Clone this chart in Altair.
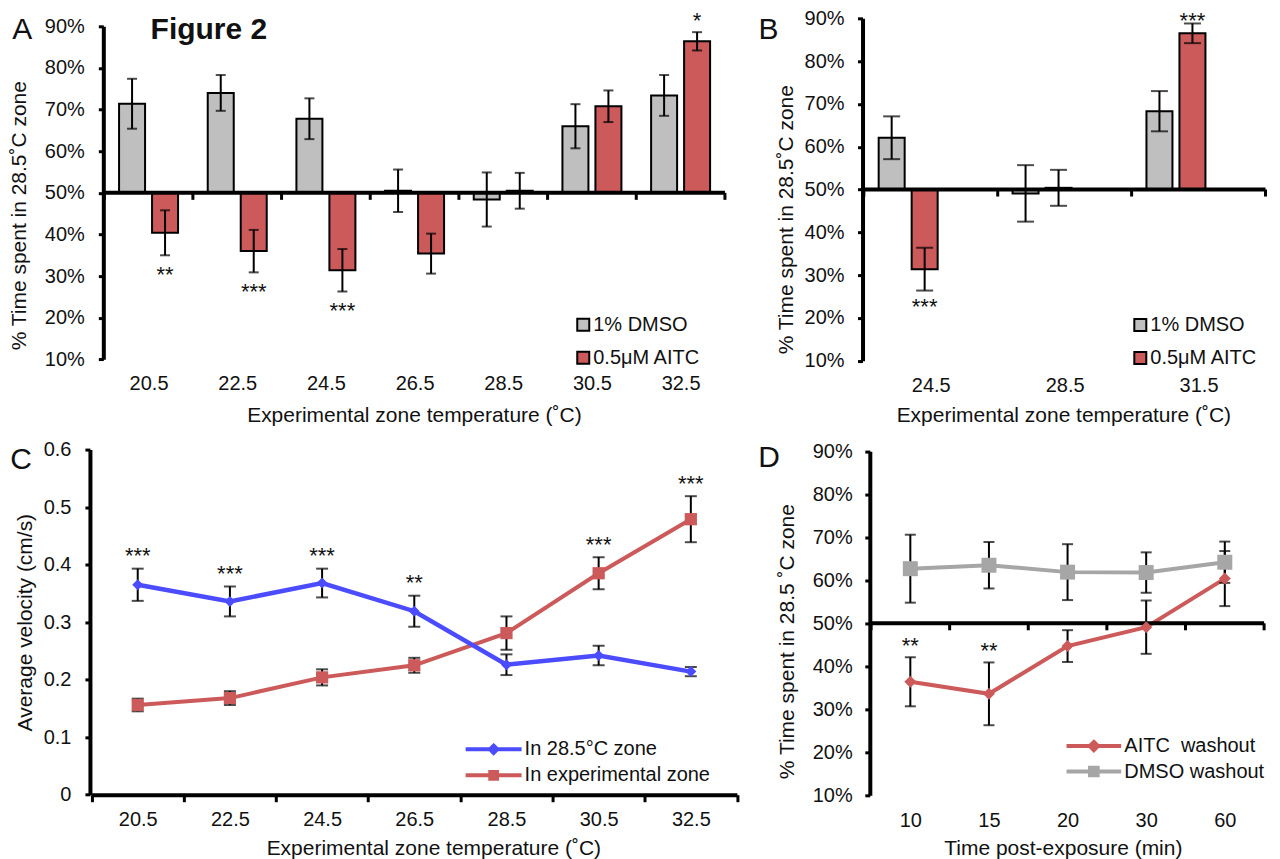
import altair as alt
import pandas as pd

FONT = "Liberation Sans"
TXT = "#111111"
GRAY_BAR = "#BFBFBF"
RED = "#CD5A5A"
BLUE = "#4B4BFF"
GRAY_LINE = "#A6A6A6"

# ---------------- data ----------------
GROUPS = ["1% DMSO", "0.5μM AITC"]

a_temps = ["20.5", "22.5", "24.5", "26.5", "28.5", "30.5", "32.5"]
a_dmso = [71.4, 74.0, 67.8, 50.5, 48.4, 66.0, 73.4]
a_dmso_err = [6.0, 4.3, 4.9, 5.1, 6.5, 5.3, 4.9]
a_aitc = [40.4, 36.0, 31.4, 35.4, 50.5, 70.8, 86.4]
a_aitc_err = [5.4, 5.1, 5.1, 4.8, 4.3, 3.8, 2.2]
a_aitc_sig = ["**", "***", "***", "", "", "", "*"]

b_temps = ["24.5", "28.5", "31.5"]
b_dmso = [62.1, 49.1, 68.3]
b_dmso_err = [5.0, 6.6, 4.7]
b_aitc = [31.4, 50.4, 86.5]
b_aitc_err = [5.0, 4.2, 2.3]
b_aitc_sig = ["***", "", "***"]

c_temps = ["20.5", "22.5", "24.5", "26.5", "28.5", "30.5", "32.5"]
c_series = ["In 28.5°C zone", "In experimental zone"]
c_ref = [0.365, 0.336, 0.368, 0.319, 0.226, 0.242, 0.214]
c_ref_err = [0.028, 0.026, 0.025, 0.027, 0.018, 0.017, 0.008]
c_exp = [0.156, 0.168, 0.204, 0.225, 0.281, 0.385, 0.479]
c_exp_err = [0.011, 0.012, 0.014, 0.013, 0.029, 0.028, 0.040]
c_sig = ["***", "***", "***", "**", "", "***", "***"]

d_times = ["10", "15", "20", "30", "60"]
d_series = ["AITC\u00a0 washout", "DMSO washout"]
d_aitc = [36.4, 33.6, 44.7, 49.1, 60.4]
d_aitc_err = [5.7, 7.3, 3.7, 6.2, 6.4]
d_dmso = [62.7, 63.5, 61.9, 61.8, 64.2]
d_dmso_err = [7.9, 5.4, 6.5, 4.7, 4.8]
d_sig = ["**", "**", "", "", ""]

BASELINE = 50       # value of the horizontal axis line in A, B and D
TICK_PATH = "M0,0L0,1"   # small downward tick symbol used on that line

# ---------------- helpers ----------------
AX = dict(domainColor="black", domainWidth=4, tickColor="black", tickWidth=3,
          labelFont=FONT, labelFontSize=20, labelColor=TXT,
          titleFont=FONT, titleFontSize=21, titleFontWeight="normal", titleColor=TXT,
          titleAlign="center", titleBaseline="middle", grid=False)
PCT = list(range(10, 91, 10))


def pct_axis(offset, pad, tx, ty, title):
    return alt.Axis(values=PCT, labelExpr="datum.value + '%'", offset=offset, tickSize=5,
                    labelPadding=pad, title=title, titleX=tx, titleY=ty, ticks=True, **AX)


def cat_axis(pad, tx, ty, title, line=True):
    return alt.Axis(orient="bottom", tickBand="extent", tickSize=7, labelAngle=0,
                    labelPadding=pad, labelBaseline="middle", title=title, titleX=tx, titleY=ty,
                    zindex=1, domain=line, ticks=line, **AX)


def text_layer(text, x, y, size, weight="normal", align="center", color=TXT):
    return alt.Chart(pd.DataFrame({"t": [text]})).mark_text(
        font=FONT, fontSize=size, fontWeight=weight, align=align, baseline="alphabetic", color=color
    ).encode(x=alt.value(x), y=alt.value(y), text="t:N")


def ax_kw(axis):
    return {} if axis is None else {"axis": axis}


def baseline_layers(cats, field, xs, ys):
    """Horizontal 50 % axis line with small downward ticks at the category boundaries."""
    cdf = pd.DataFrame({field: cats})
    edf = pd.DataFrame({"start": [cats[0]], "end": [cats[-1]]})
    line = alt.Chart(edf).mark_rule(color="black", strokeWidth=4).encode(
        x=alt.X("start:N", sort=cats, scale=xs, bandPosition=0),
        x2=alt.X2("end:N", bandPosition=1),
        y=alt.Y(datum=BASELINE, scale=ys))
    tick_style = dict(shape=TICK_PATH, size=196, filled=False, stroke="black", strokeWidth=3,
                      opacity=1)
    ticks0 = alt.Chart(cdf).mark_point(**tick_style).encode(
        x=alt.X(f"{field}:N", sort=cats, scale=xs, bandPosition=0),
        y=alt.Y(datum=BASELINE, scale=ys))
    ticks1 = alt.Chart(edf).mark_point(**tick_style).encode(
        x=alt.X("end:N", sort=cats, scale=xs, bandPosition=1),
        y=alt.Y(datum=BASELINE, scale=ys))
    return [line, ticks0, ticks1]


def bar_panel(temps, dmso, dmso_err, aitc, aitc_err, sig, *, width, height, x_range, y_range,
              pi, po, cap, x_axis, y_axis, legend, dy_below, dy_above, extra):
    rows = []
    for i, t in enumerate(temps):
        rows.append({"temp": t, "group": GROUPS[0], "value": dmso[i], "err": dmso_err[i], "sig": ""})
        rows.append({"temp": t, "group": GROUPS[1], "value": aitc[i], "err": aitc_err[i], "sig": sig[i]})
    df = pd.DataFrame(rows)
    df["lo"] = df["value"] - df["err"]
    df["hi"] = df["value"] + df["err"]
    xs = alt.Scale(range=x_range, paddingInner=0, paddingOuter=0)
    ys_kw = dict(domain=[10, 90])
    if y_range:
        ys_kw["range"] = y_range
    ys = alt.Scale(**ys_kw)

    def X(axis=None):
        return alt.X("temp:N", sort=temps, scale=xs, **ax_kw(axis))

    def Y(field, axis=None):
        return alt.Y(field, scale=ys, **ax_kw(axis))

    XO = alt.XOffset("group:N", sort=GROUPS, scale=alt.Scale(paddingInner=pi, paddingOuter=po))
    base = alt.Chart(df)
    bars = base.mark_bar(stroke="black", strokeWidth=2).encode(
        x=X(x_axis), xOffset=XO,
        y=Y("value:Q", y_axis), y2=alt.datum(BASELINE),
        color=alt.Color("group:N", sort=GROUPS,
                        scale=alt.Scale(domain=GROUPS, range=[GRAY_BAR, RED]), legend=legend))
    err = base.mark_rule(color="black", strokeWidth=2).encode(
        x=X(), xOffset=XO, y=Y("lo:Q"), y2="hi:Q")
    cap_lo = base.mark_tick(color="black", thickness=2, size=cap).encode(
        x=X(), xOffset=XO, y=Y("lo:Q"))
    cap_hi = base.mark_tick(color="black", thickness=2, size=cap).encode(
        x=X(), xOffset=XO, y=Y("hi:Q"))
    below = base.transform_filter("datum.sig != '' && datum.value < 50").mark_text(
        font=FONT, fontSize=22, baseline="middle", dy=dy_below, color=TXT).encode(
        x=X(), xOffset=XO, y=Y("lo:Q"), text="sig:N")
    above = base.transform_filter("datum.sig != '' && datum.value >= 50").mark_text(
        font=FONT, fontSize=22, baseline="middle", dy=dy_above, color=TXT).encode(
        x=X(), xOffset=XO, y=Y("hi:Q"), text="sig:N")
    return alt.layer(bars, *baseline_layers(temps, "temp", xs, ys), err, cap_lo, cap_hi,
                     below, above, *extra).properties(width=width, height=height)


def bar_legend(lx, ly):
    return alt.Legend(orient="none", legendX=lx, legendY=ly, title=None, symbolType="square",
                      symbolSize=144, symbolStrokeColor="black", symbolStrokeWidth=2,
                      symbolOpacity=1, labelFont=FONT, labelFontSize=20, labelColor=TXT,
                      labelOffset=0, rowPadding=13, padding=0, labelLimit=400)


def line_legend(lx, ly, size, row_pad):
    return alt.Legend(orient="none", legendX=lx, legendY=ly, title=None, symbolSize=size,
                      symbolStrokeWidth=4, symbolOpacity=1, clipHeight=20,
                      labelFont=FONT, labelFontSize=20, labelColor=TXT,
                      labelOffset=1, rowPadding=row_pad, padding=0, labelLimit=400)


def line_panel(cats, series, vals, errs, sig, *, colors, shapes, sizes, widths, draw_order,
               width, height, x_range, y_scale, cap, x_axis, y_axis, legend, legend_paths,
               dy_star, star_series, mid_line, extra):
    rows = []
    for s, v, e in zip(series, vals, errs):
        for c, vi, ei in zip(cats, v, e):
            rows.append({"cat": c, "series": s, "value": vi, "err": ei})
    df = pd.DataFrame(rows)
    df["lo"] = df["value"] - df["err"]
    df["hi"] = df["value"] + df["err"]
    ref_idx = star_series if star_series is not None else list(range(len(series)))
    tops = [max(vals[k][i] + errs[k][i] for k in ref_idx) for i in range(len(cats))]
    star_df = pd.DataFrame({"cat": cats, "sig": sig, "top": tops})
    xs = alt.Scale(range=x_range, paddingInner=0, paddingOuter=0)
    ys = y_scale

    def X(axis=None):
        return alt.X("cat:N", sort=cats, scale=xs, **ax_kw(axis))

    def Y(field, axis=None):
        return alt.Y(field, scale=ys, **ax_kw(axis))

    base = alt.Chart(df)
    layers = []
    first = True
    for k in draw_order:
        s = series[k]
        layers.append(base.transform_filter(alt.datum.series == s).mark_line(
            color=colors[k], strokeWidth=widths[k]).encode(
            x=X(x_axis if first else None),
            y=Y("value:Q", y_axis if first else None)))
        first = False
    if mid_line:
        layers.extend(baseline_layers(cats, "cat", xs, ys))
    layers.append(base.mark_rule(color="black", strokeWidth=2).encode(
        x=X(), y=Y("lo:Q"), y2="hi:Q"))
    layers.append(base.mark_tick(color="black", thickness=2, size=cap).encode(
        x=X(), y=Y("lo:Q")))
    layers.append(base.mark_tick(color="black", thickness=2, size=cap).encode(
        x=X(), y=Y("hi:Q")))
    for k in draw_order:
        s = series[k]
        layers.append(base.transform_filter(alt.datum.series == s).mark_point(
            shape=shapes[k], filled=True, size=sizes[k], color=colors[k], opacity=1).encode(
            x=X(), y=Y("value:Q")))
    layers.append(alt.Chart(star_df).transform_filter("datum.sig != ''").mark_text(
        font=FONT, fontSize=22, baseline="middle", dy=dy_star, color=TXT).encode(
        x=X(), y=Y("top:Q"), text="sig:N"))
    layers.append(base.mark_point(filled=True, opacity=0).encode(
        x=X(), y=Y("value:Q"),
        color=alt.Color("series:N", sort=series, scale=alt.Scale(domain=series, range=colors), legend=legend),
        stroke=alt.Stroke("series:N", sort=series, scale=alt.Scale(domain=series, range=colors), legend=legend),
        shape=alt.Shape("series:N", sort=series, scale=alt.Scale(domain=series, range=legend_paths), legend=legend)))
    layers.extend(extra)
    return alt.layer(*layers).properties(width=width, height=height)


# ---------------- panels ----------------
TEMP_TITLE = "Experimental zone temperature (˚C)"

panel_a = bar_panel(
    a_temps, a_dmso, a_dmso_err, a_aitc, a_aitc_err, a_aitc_sig,
    width=647.5, height=342.7, x_range=[14.3, 635.5], y_range=[341.3, 8],
    pi=0.212, po=0.45, cap=10,
    x_axis=cat_axis(23, 324.2, 54.3, TEMP_TITLE, line=False),
    y_axis=pct_axis(-13.4, 14, -84.2, 197, "% Time spent in 28.5˚C zone"),
    legend=bar_legend(483.7, 296.7), dy_below=19.5, dy_above=-11,
    extra=[text_layer("A", -67.8, 21, 30),
           text_layer("Figure 2", 60.7, 20.7, 30, weight="bold", align="left"),
           alt.Chart(pd.DataFrame({"a": [0]})).mark_rule(color="white", strokeWidth=1).encode(
               x=alt.value(-80.8), x2=alt.value(-79.8), y=alt.value(-7.5))])

panel_b = bar_panel(
    b_temps, b_dmso, b_dmso_err, b_aitc, b_aitc_err, b_aitc_sig,
    width=403.3, height=342.7, x_range=[1.3, 403.3], y_range=None,
    pi=0.138, po=0.609, cap=17,
    x_axis=cat_axis(24.3, 201, 54.3, TEMP_TITLE, line=False),
    y_axis=pct_axis(0, 13.5, -76, 201, "% Time spent in 28.5˚C zone"),
    legend=bar_legend(268, 297), dy_below=16.5, dy_above=-2,
    extra=[text_layer("B", -94, 20.7, 30)])

DIAMOND_LEG = "M-1,0L1,0M0,-0.13L0.13,0L0,0.13L-0.13,0Z"
SQUARE_LEG = "M-1,0L1,0M-0.12,-0.12L0.12,-0.12L0.12,0.12L-0.12,0.12Z"

panel_c = line_panel(
    c_temps, c_series, [c_ref, c_exp], [c_ref_err, c_exp_err], c_sig,
    colors=[BLUE, RED], shapes=["diamond", "square"], sizes=[121, 150], widths=[4.5, 4],
    draw_order=[1, 0], width=647.5, height=345.4, x_range=[1.7, 647.5],
    y_scale=alt.Scale(domain=[0, 0.6]), cap=12,
    x_axis=cat_axis(17.6, 343.7, 54, TEMP_TITLE, line=True),
    y_axis=alt.Axis(values=[0, 0.1, 0.2, 0.3, 0.4, 0.5, 0.6], format=".1~f", tickSize=5, ticks=True,
                    labelPadding=14, title="Average velocity (cm/s)", titleX=-64.3, titleY=172.7, **AX),
    legend=line_legend(374, 290, 3136, 6), legend_paths=[DIAMOND_LEG, SQUARE_LEG],
    dy_star=-12.5, star_series=None, mid_line=False, extra=[text_layer("C", -68.8, 19.4, 30)])

panel_d = line_panel(
    d_times, d_series, [d_aitc, d_dmso], [d_aitc_err, d_dmso_err], d_sig,
    colors=[RED, GRAY_LINE], shapes=["diamond", "square"], sizes=[144, 225], widths=[4, 4],
    draw_order=[1, 0], width=402, height=346, x_range=[8.5, 401.9],
    y_scale=alt.Scale(domain=[10, 90], range=[346, 1.7]), cap=11,
    x_axis=cat_axis(25, 200.5, 53.4, "Time post-exposure (min)", line=False),
    y_axis=pct_axis(-7.3, 12.6, -82.3, 191.7, "% Time spent in 28.5 ˚C zone"),
    legend=line_legend(202, 286.7, 2992, 5.5),
    legend_paths=["M-1,0L1,0M0,-0.15L0.15,0L0,0.15L-0.15,0Z",
                  "M-1,0L1,0M-0.14,-0.14L0.14,-0.14L0.14,0.14L-0.14,0.14Z"],
    dy_star=-11.5, star_series=[0], mid_line=True, extra=[text_layer("D", -93.4, 17.7, 30)])

chart = alt.concat(panel_a, panel_b, panel_c, panel_d, columns=2,
                   spacing={"row": 88.6, "column": 125.2}, bounds="flush").resolve_scale(
    color="independent", stroke="independent", shape="independent").properties(
    padding=0).configure(font=FONT).configure_view(stroke=None)

chart.save("out.html", embed_options={"renderer": "svg", "actions": False})
